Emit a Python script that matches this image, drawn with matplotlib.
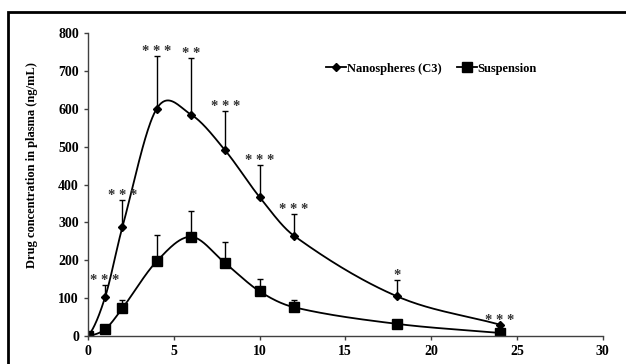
import numpy as np
import matplotlib.pyplot as plt
from matplotlib.patches import Rectangle

time_h = [0, 1, 2, 4, 6, 8, 10, 12, 18, 24]
nano = [0, 103, 287, 600, 585, 490, 367, 265, 105, 30]
nano_err = [0, 32, 73, 140, 150, 105, 85, 58, 42, 0]
susp = [0, 18, 73, 197, 262, 192, 118, 76, 32, 8]
susp_err = [0, 0, 22, 71, 68, 56, 32, 19, 10, 0]
stars = ["***", "***", "***", "**", "***", "***", "***", "*", "***"]
star_times = [1, 2, 4, 6, 8, 10, 12, 18, 24]


def smooth(x, y, n=40):
    # cubic Hermite through the points, slopes from neighbours
    x = np.asarray(x, float)
    y = np.asarray(y, float)
    m = np.zeros(len(x))
    m[1:-1] = (y[2:] - y[:-2]) / (x[2:] - x[:-2])
    m[0] = (y[1] - y[0]) / (x[1] - x[0]) * 0.5
    m[-1] = (y[-1] - y[-2]) / (x[-1] - x[-2])
    xs, ys = [], []
    t = np.linspace(0, 1, n)
    for i in range(len(x) - 1):
        h = x[i + 1] - x[i]
        h00 = 2 * t ** 3 - 3 * t ** 2 + 1
        h10 = t ** 3 - 2 * t ** 2 + t
        h01 = -2 * t ** 3 + 3 * t ** 2
        h11 = t ** 3 - t ** 2
        xs.extend(x[i] + h * t)
        ys.extend(h00 * y[i] + h10 * h * m[i] + h01 * y[i + 1] + h11 * h * m[i + 1])
    return xs, ys


plt.rcParams['font.family'] = 'Liberation Serif'
plt.rcParams['font.weight'] = 'bold'
plt.rcParams['axes.labelweight'] = 'bold'

fig = plt.figure(figsize=(6.26, 3.64), dpi=100)
fig.patches.append(Rectangle((8 / 626, -0.1), 1.2, 1 - 12 / 364 + 0.1,
                             transform=fig.transFigure, fill=False,
                             edgecolor='black', linewidth=2))
ax = fig.add_axes([0.1406, 0.077, 0.822, 0.832])

ax.errorbar(time_h, nano, yerr=[np.zeros(len(nano)), nano_err], fmt='none',
            ecolor='black', elinewidth=1, capsize=2.5, capthick=1)
ax.errorbar(time_h, susp, yerr=[np.zeros(len(susp)), susp_err], fmt='none',
            ecolor='black', elinewidth=1, capsize=2.5, capthick=1)

sx, sy = smooth(time_h, nano)
ax.plot(sx, sy, color='black', lw=1.3)
sx, sy = smooth(time_h, susp)
ax.plot(sx, sy, color='black', lw=1.3)
ax.plot(time_h, nano, 'D', color='black', ms=4)
ax.plot(time_h, susp, 's', color='black', ms=7)

# legend proxies
ax.plot([], [], '-D', color='black', ms=4, lw=1.3, label='Nanospheres (C3)')
ax.plot([], [], '-s', color='black', ms=7, lw=1.3, label='Suspension')
ax.legend(loc='upper left', bbox_to_anchor=(0.44, 0.94), ncol=2, frameon=False,
          handlelength=1.6, handletextpad=0.1, columnspacing=1.2,
          prop={'family': 'Liberation Serif', 'weight': 'bold', 'size': 9})

for lab, t in zip(stars, star_times):
    i = time_h.index(t)
    top = nano[i] + nano_err[i]
    ax.annotate(' '.join(lab), (t, top), xytext=(0, -1.5), textcoords='offset points',
                ha='center', va='bottom', fontsize=10.5, color='#333333')

ax.set_xlim(0, 30)
ax.set_ylim(0, 800)
ax.set_xticks(range(0, 31, 5))
ax.set_yticks(range(0, 801, 100))
ax.tick_params(labelsize=10, length=3, width=1, color='#404040')
for s in ['top', 'right']:
    ax.spines[s].set_visible(False)
for s in ['left', 'bottom']:
    ax.spines[s].set_color('#404040')
    ax.spines[s].set_linewidth(1)
ax.set_ylabel('Drug concentration in plasma (ng/mL)', fontsize=9)
ax.yaxis.set_label_coords(-0.097, 0.564)

fig.savefig('out.png', dpi=100)
